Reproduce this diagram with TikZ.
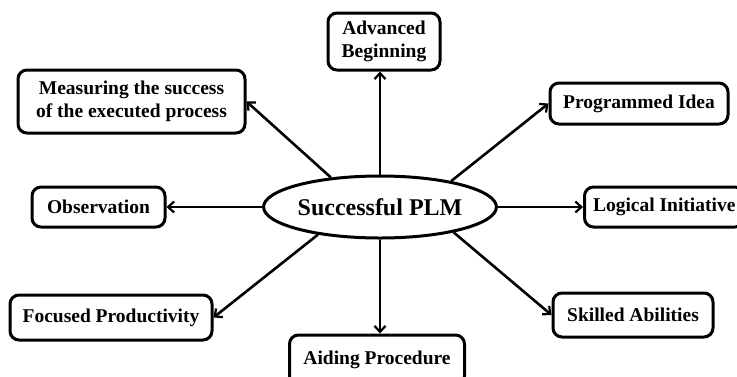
\documentclass[tikz,border=0pt]{standalone}
\usepackage{fontspec}
\setmainfont{Liberation Serif}
\usetikzlibrary{arrows.meta,shapes.geometric}
\tikzset{
  idea/.style={draw, line width=3pt, rounded corners=9pt, align=center,
    font=\fontsize{19.5}{22.5}\selectfont\bfseries, inner sep=0pt},
  hub/.style={draw, ellipse, line width=3pt, inner sep=0pt,
    minimum width=214pt, minimum height=62pt,
    font=\fontsize{24}{27}\selectfont\bfseries},
  link/.style={line width=2.6pt,
    -{Straight Barb[length=6pt,width=11pt,line width=2.2pt]}}
}
\begin{document}
\begin{tikzpicture}[x=1pt,y=-1pt]
\useasboundingbox (0,0) rectangle (737,376);
\node[hub] (plm) at (380,207) {Successful PLM};
\node[idea, minimum width=112pt, minimum height=57pt] (adv) at (384,41.5) {Advanced\\Beginning};
\node[idea, minimum width=227pt, minimum height=63pt] (meas) at (131.5,101.5) {Measuring the success\\of the executed process};
\node[idea, minimum width=178pt, minimum height=41pt] (prog) at (639,103.5) {Programmed Idea};
\node[idea, minimum width=133pt, minimum height=40pt] (obs) at (98.5,207) {Observation};
\node[idea, anchor=west, minimum height=40pt, inner xsep=8.5pt] (logic) at (583,207) {Logical Initiative};
\node[idea, minimum width=202pt, minimum height=45pt] (foc) at (111,317.5) {Focused Productivity};
\node[idea, minimum width=160pt, minimum height=44pt] (skill) at (633,315) {Skilled Abilities};
\node[idea, minimum width=175pt, minimum height=50pt] (aid) at (377,360) {Aiding Procedure};
\draw[link] (plm.north) -- (plm.north |- adv.south);
\draw[link] (plm.149) -- (meas.east);
\draw[link] (plm.20) -- (prog.west);
\draw[link] (plm.west) -- (obs.east);
\draw[link] (plm.east) -- (logic.west);
\draw[link] (plm.204) -- (foc.east);
\draw[link] (plm.341) -- (skill.west);
\draw[link] (plm.south) -- (plm.south |- aid.north);
\end{tikzpicture}
\end{document}
